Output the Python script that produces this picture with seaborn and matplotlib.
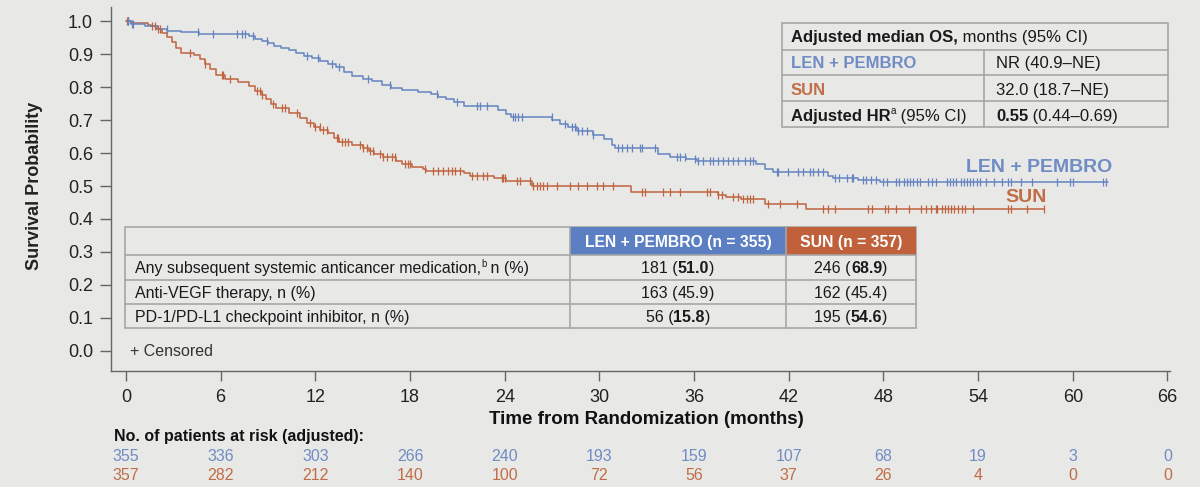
import numpy as np
import pandas as pd
import matplotlib
matplotlib.use("Agg")
import matplotlib.pyplot as plt
import matplotlib.transforms as mtransforms
from matplotlib.patches import Rectangle
from matplotlib.lines import Line2D
import seaborn as sns

# ---- data ----
len_times = [0.0, 0.3, 1.2, 2.0, 2.6, 3.5, 4.6, 7.8, 8.2, 8.6, 9.0, 9.4, 9.8, 10.3, 10.8, 11.3,
             11.8, 12.3, 12.8, 13.3, 13.8, 14.3, 15.0, 15.6, 16.2, 16.8, 17.5, 18.5, 19.3, 19.8,
             20.3, 20.8, 21.4, 23.6, 24.1, 24.4, 27.0, 27.5, 28.0, 28.6, 29.6, 30.3, 30.8, 31.0,
             33.7, 34.5, 35.5, 36.2, 39.9, 40.5, 41.0, 44.5, 44.8, 46.4, 47.8, 62.2]
len_surv = [1.0, 0.993, 0.985, 0.978, 0.972, 0.968, 0.962, 0.956, 0.948, 0.942, 0.935, 0.926,
            0.918, 0.912, 0.904, 0.896, 0.889, 0.880, 0.872, 0.862, 0.846, 0.834, 0.826, 0.818,
            0.808, 0.798, 0.792, 0.786, 0.780, 0.772, 0.764, 0.755, 0.744, 0.730, 0.720, 0.711,
            0.700, 0.690, 0.678, 0.668, 0.656, 0.642, 0.624, 0.615, 0.597, 0.589, 0.583, 0.577,
            0.566, 0.553, 0.544, 0.530, 0.524, 0.518, 0.511, 0.511]

sun_times = [0.0, 0.3, 1.4, 1.6, 1.9, 2.3, 2.6, 2.9, 3.2, 3.5, 4.3, 4.7, 5.0, 5.3, 5.7, 6.3,
             7.1, 7.8, 8.2, 8.6, 8.9, 9.2, 9.5, 10.3, 11.0, 11.5, 11.9, 12.3, 12.8, 13.2, 13.5,
             14.3, 15.0, 15.4, 15.7, 16.3, 17.1, 17.5, 18.1, 18.8, 19.0, 21.4, 21.8, 23.3, 24.1,
             25.7, 32.0, 37.5, 38.0, 39.0, 40.5, 43.1, 58.2]
sun_surv = [1.0, 0.996, 0.990, 0.986, 0.976, 0.965, 0.952, 0.938, 0.920, 0.905, 0.897, 0.885,
            0.870, 0.855, 0.838, 0.825, 0.815, 0.803, 0.790, 0.778, 0.765, 0.750, 0.738, 0.722,
            0.707, 0.692, 0.680, 0.670, 0.660, 0.645, 0.635, 0.624, 0.615, 0.605, 0.597, 0.587,
            0.577, 0.566, 0.559, 0.552, 0.547, 0.539, 0.530, 0.523, 0.515, 0.500, 0.483, 0.473,
            0.467, 0.460, 0.445, 0.430, 0.430]

len_censor = [0.1, 0.15, 0.36, 0.46, 2.58, 4.58, 5.53, 7.01, 7.33, 7.54, 8.07, 8.91, 11.45,
              12.19, 13.03, 13.52, 15.36, 16.73, 19.69, 20.95, 22.22, 22.43, 22.86, 24.5, 24.65,
              24.86, 25.08, 26.98, 27.82, 28.24, 28.45, 28.67, 28.88, 29.2, 29.62, 31.2, 31.41,
              31.73, 32.05, 32.57, 32.68, 33.52, 34.9, 35.11, 35.43, 36.06, 36.27, 36.59, 37.01,
              37.22, 37.54, 37.86, 38.17, 38.49, 38.81, 39.23, 39.55, 39.76, 41.24, 41.34, 41.97,
              42.61, 42.93, 43.35, 43.56, 43.88, 44.2, 44.9, 45.2, 45.67, 46.0, 46.1, 46.7, 46.9,
              47.2, 47.5, 48.0, 48.2, 48.8, 49.0, 49.3, 49.5, 49.7, 49.9, 50.1, 50.3, 50.8, 51.1,
              51.3, 52.0, 52.2, 52.4, 52.6, 52.9, 53.1, 53.3, 53.5, 53.7, 53.9, 54.1, 54.5, 55.0,
              55.5, 55.9, 56.1, 56.7, 57.4, 59.0, 59.8, 60.0, 61.9, 62.1]
sun_censor = [0.05, 0.15, 1.63, 1.84, 2.05, 2.15, 4.06, 5.01, 6.06, 6.17, 6.59, 8.28, 8.49, 8.6,
              9.34, 9.86, 10.08, 10.82, 11.66, 11.98, 12.29, 12.51, 12.72, 13.35, 13.46, 13.67,
              13.88, 14.09, 14.83, 15.04, 15.25, 15.46, 15.67, 16.1, 16.31, 16.52, 16.84, 17.05,
              17.68, 17.89, 18.0, 18.95, 19.48, 19.79, 20.11, 20.43, 20.64, 20.85, 21.17, 21.91,
              22.22, 22.65, 22.86, 23.81, 23.91, 24.02, 24.76, 24.97, 25.6, 25.81, 26.03, 26.24,
              26.45, 26.66, 27.29, 28.14, 28.67, 29.19, 29.83, 30.25, 30.88, 32.68, 32.89, 34.05,
              34.48, 35.11, 36.8, 37.01, 37.54, 37.75, 38.49, 38.81, 39.12, 39.33, 39.55, 39.76,
              40.71, 41.45, 42.5, 44.19, 44.51, 44.9, 47.0, 47.3, 48.1, 48.3, 48.8, 49.6, 50.4,
              50.7, 51.0, 51.3, 51.4, 51.7, 51.9, 52.1, 52.3, 52.5, 52.7, 53.0, 53.2, 53.7, 55.9,
              56.1, 57.1, 58.2]

risk_times = [0, 6, 12, 18, 24, 30, 36, 42, 48, 54, 60, 66]
risk_len = [355, 336, 303, 266, 240, 193, 159, 107, 68, 19, 3, 0]
risk_sun = [357, 282, 212, 140, 100, 72, 56, 37, 26, 4, 0, 0]

y_ticks = [0.0, 0.1, 0.2, 0.3, 0.4, 0.5, 0.6, 0.7, 0.8, 0.9, 1.0]

sub_rows = ["Any subsequent systemic anticancer medication,",
            "Anti-VEGF therapy, n (%)",
            "PD-1/PD-L1 checkpoint inhibitor, n (%)"]
sub_len_n = ["181", "163", "56"]
sub_len_pct = ["51.0", "45.9", "15.8"]
sub_sun_n = ["246", "162", "195"]
sub_sun_pct = ["68.9", "45.4", "54.6"]
sub_bold = [True, False, True]

BLUE = "#6384c0"
ORANGE = "#c0643e"
BLUE_TXT = "#6f8cc4"
ORANGE_TXT = "#c06d48"
BG = "#e8e8e6"
GRID = "#a6a6a6"
W, H = 1200, 487

sns.set_theme(style="white")
plt.rcParams["font.family"] = ["Liberation Sans", "DejaVu Sans"]

fig = plt.figure(figsize=(12, 4.87), dpi=100, facecolor=BG)
ax = fig.add_axes([111 / W, (H - 371) / H, (1170 - 111) / W, (371 - 7) / H])
ax.set_facecolor(BG)


def km_at(t, times, surv):
    i = np.searchsorted(times, t, side="right") - 1
    return np.asarray(surv)[i]


df_len = pd.DataFrame({"t": len_times, "s": len_surv})
df_sun = pd.DataFrame({"t": sun_times, "s": sun_surv})
sns.lineplot(data=df_sun, x="t", y="s", color=ORANGE, lw=1.1, drawstyle="steps-post",
             estimator=None, sort=False, ax=ax)
sns.lineplot(data=df_len, x="t", y="s", color=BLUE, lw=1.1, drawstyle="steps-post",
             estimator=None, sort=False, ax=ax)
ax.plot(sun_censor, km_at(sun_censor, sun_times, sun_surv), ls="none", marker="|",
        ms=6, mew=0.9, color=ORANGE)
ax.plot(len_censor, km_at(len_censor, len_times, len_surv), ls="none", marker="|",
        ms=6, mew=0.9, color=BLUE)

ax.set_xlim(-0.95, 66.16)
ax.set_ylim(-0.062, 1.044)
ax.set_xticks(risk_times)
ax.set_xticklabels([str(v) for v in risk_times], fontsize=13, color="#222222")
ax.set_yticks(y_ticks)
ax.set_yticklabels([f"{v:.1f}" for v in y_ticks], fontsize=13, color="#222222")
ax.tick_params(axis="y", direction="out", length=8, width=1, color="#666666", pad=5, left=True)
ax.tick_params(axis="x", direction="out", length=7, width=1, color="#666666", pad=6, bottom=True)
for side in ["top", "right"]:
    ax.spines[side].set_visible(False)
for side in ["left", "bottom"]:
    ax.spines[side].set_color("#666666")
    ax.spines[side].set_linewidth(1)
ax.set_xlabel("")
ax.set_ylabel("")

fig.text(35 / W, 1 - 186 / H, "Survival Probability", rotation=90, fontsize=13,
         fontweight="bold", ha="center", va="center", color="#222222")

blend = mtransforms.blended_transform_factory(ax.transData, fig.transFigure)
ax.text(np.mean([0, 66]), 1 - 420 / H, "Time from Randomization (months)", transform=blend,
        ha="center", va="center", fontsize=13.5, fontweight="bold", color="#111111")

fig.text(114 / W, 1 - 437 / H, "No. of patients at risk (adjusted):", fontsize=11.5,
         fontweight="bold", ha="left", va="center", color="#111111")
for t, a, b in zip(risk_times, risk_len, risk_sun):
    ax.text(t, 1 - 456.5 / H, str(a), transform=blend, ha="center", va="center",
            fontsize=11.5, color=BLUE_TXT)
    ax.text(t, 1 - 475 / H, str(b), transform=blend, ha="center", va="center",
            fontsize=11.5, color=ORANGE_TXT)

# curve end labels
fig.text(1112 / W, 1 - 167 / H, "LEN + PEMBRO", fontsize=14, fontweight="bold",
         color=BLUE_TXT, ha="right", va="center")
fig.text(1047 / W, 1 - 197 / H, "SUN", fontsize=14, fontweight="bold",
         color=ORANGE_TXT, ha="right", va="center")

fig.canvas.draw()
renderer = fig.canvas.get_renderer()


def rich(x, y, parts, size, ha="left"):
    # parts: (text, bold, color, superscript); y = vertical centre in pixels from top
    cap = 0.716 * size * 100 / 72
    base = y + cap / 2
    items = []
    for txt, bold, col, sup in parts:
        fs = size * 0.6 if sup else size
        yy = base - (cap * 0.55 if sup else 0)
        t = fig.text(0, 1 - yy / H, txt, fontsize=fs, fontweight="bold" if bold else "normal",
                     color=col, ha="left", va="baseline")
        items.append(t)
    widths = [t.get_window_extent(renderer).width for t in items]
    total = sum(widths)
    x0 = x - total / 2 if ha == "center" else x
    for t, w in zip(items, widths):
        t.set_x(x0 / W)
        x0 += w


def rect(x0, y0, x1, y1, **kw):
    fig.add_artist(Rectangle((x0 / W, 1 - y1 / H), (x1 - x0) / W, (y1 - y0) / H,
                             transform=fig.transFigure, **kw))


def hline(x0, x1, y, **kw):
    fig.add_artist(Line2D([x0 / W, x1 / W], [1 - y / H, 1 - y / H], transform=fig.transFigure, **kw))


def vline(x, y0, y1, **kw):
    fig.add_artist(Line2D([x / W, x / W], [1 - y0 / H, 1 - y1 / H], transform=fig.transFigure, **kw))


K = "#1a1a1a"
# upper-right median OS table
rect(782, 23, 1168, 127, facecolor=BG, edgecolor=GRID, lw=1.2)
for yy in [49.5, 75, 101]:
    hline(782, 1168, yy, color=GRID, lw=1.2)
vline(984, 49.5, 127, color=GRID, lw=1.2)
rich(791, 36, [("Adjusted median OS,", True, K, False), (" months (95% CI)", False, K, False)], 12)
rich(791, 62.5, [("LEN + PEMBRO", True, BLUE_TXT, False)], 12)
rich(996, 62.5, [("NR (40.9–NE)", False, K, False)], 12)
rich(791, 89, [("SUN", True, ORANGE_TXT, False)], 12)
rich(996, 89, [("32.0 (18.7–NE)", False, K, False)], 12)
rich(791, 115, [("Adjusted HR", True, K, False), ("a", False, K, True), (" (95% CI)", False, K, False)], 12)
rich(996, 115, [("0.55", True, K, False), (" (0.44–0.69)", False, K, False)], 12)

# subsequent therapy table
rect(125, 227, 916, 328, facecolor=BG, edgecolor=GRID, lw=1.2)
rect(570, 227, 786, 255, facecolor="#5b7fc2", edgecolor="none")
rect(786, 227, 916, 255, facecolor="#c0613c", edgecolor="none")
for yy in [255, 280, 304]:
    hline(125, 916, yy, color=GRID, lw=1.2)
vline(570, 227, 328, color=GRID, lw=1.2)
vline(786, 227, 328, color=GRID, lw=1.2)
rich(678, 241, [("LEN + PEMBRO (n = 355)", True, "white", False)], 11.3, ha="center")
rich(851, 241, [("SUN (n = 357)", True, "white", False)], 11.3, ha="center")
row_y = [267.5, 292, 316]
for i, (lab, yy) in enumerate(zip(sub_rows, row_y)):
    if i == 0:
        rich(135, yy, [(lab, False, K, False), ("b", False, K, True), (" n (%)", False, K, False)], 11.5)
    else:
        rich(135, yy, [(lab, False, K, False)], 11.5)
    b = sub_bold[i]
    rich(678, yy, [(sub_len_n[i] + " (", False, K, False), (sub_len_pct[i], b, K, False),
                   (")", False, K, False)], 11.5, ha="center")
    rich(851, yy, [(sub_sun_n[i] + " (", False, K, False), (sub_sun_pct[i], b, K, False),
                   (")", False, K, False)], 11.5, ha="center")

rich(130, 350, [("+ Censored", False, "#333333", False)], 11.5)

fig.savefig("out.png", dpi=100, facecolor=BG)
